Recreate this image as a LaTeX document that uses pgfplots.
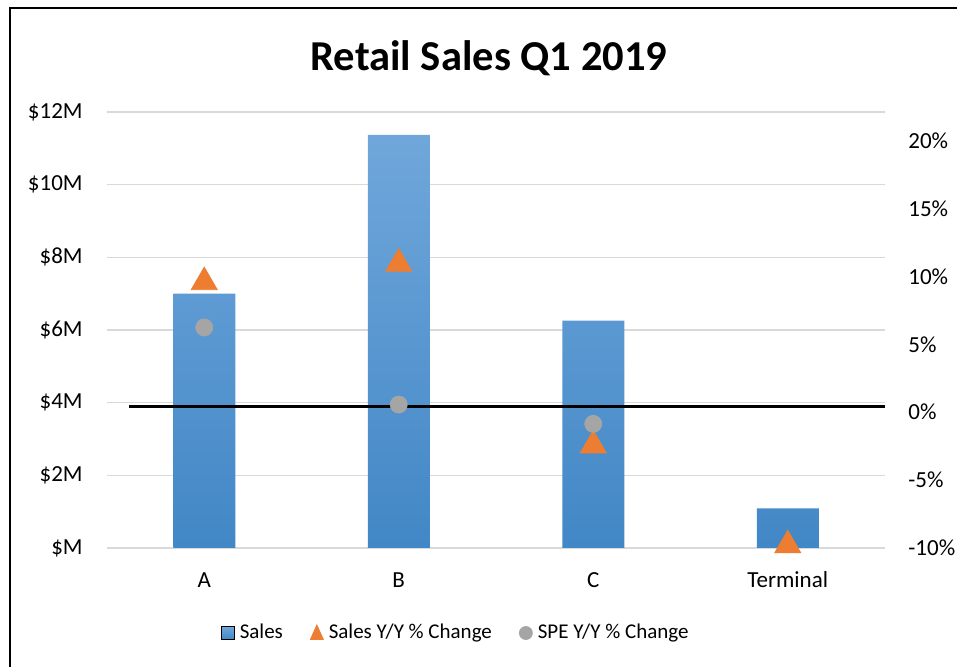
\documentclass[border=0pt]{standalone}
\usepackage{fontspec}
\setmainfont{Carlito}
\usepackage{pgfplots}
\pgfplotsset{compat=1.18}

\definecolor{barTop}{HTML}{70A7DB}
\definecolor{barBot}{HTML}{4287C6}
\definecolor{gridc}{HTML}{D9D9D9}
\definecolor{salesOr}{HTML}{ED7D31}
\definecolor{speGr}{HTML}{A5A5A5}

\begin{document}
\begin{tikzpicture}
\useasboundingbox (0,0) rectangle (478.5pt,333.5pt);
% chart frame (only left and top are visible)
\draw[line width=1pt] (5pt,-5pt) -- (5pt,329.5pt) -- (490pt,329.5pt);
\node[font=\fontsize{21.3}{25}\selectfont\bfseries] at (244.5pt,304.5pt) {Retail Sales Q1 2019};

\pgfplotsset{
    chartbase/.style={
        at={(53.5pt,59.5pt)}, anchor=south west,
        scale only axis, width=389pt, height=218pt,
        xmin=-0.5, xmax=3.5,
        axis line style={draw=none},
        major tick length=0pt,
        tick label style={font=\fontsize{11.5}{13}\selectfont, inner sep=0pt},
        /pgf/number format/assume math mode=true,
    },
}

% left axis: sales in $M
\begin{axis}[
    chartbase,
    ymin=0, ymax=12,
    ytick={0,2,...,12},
    yticklabels={\$M,\$2M,\$4M,\$6M,\$8M,\$10M,\$12M},
    yticklabel style={anchor=east, xshift=-12pt},
    xtick={0,1,2,3},
    xticklabels={A,B,C,Terminal},
    xticklabel style={anchor=base, yshift=-19.75pt},
    ymajorgrids,
    grid style={gridc, line width=0.6pt},
]
\addplot[ybar, bar width=31pt, bar shift=0pt, draw=none,
    top color=barTop, bottom color=barBot] coordinates {
    (0, 7.00)
    (1, 11.37)
    (2, 6.26)
    (3, 1.09)
};
\end{axis}

% right axis: Y/Y % change
\begin{axis}[
    chartbase,
    ymin=-10, ymax=22.1,
    ytick={-10,-5,...,20},
    yticklabels={-10\%,-5\%,0\%,5\%,10\%,15\%,20\%},
    yticklabel style={anchor=west, xshift=11.5pt},
    axis y line*=right,
    xtick=\empty,
    legend columns=3,
    legend style={at={(0.447,-0.195)}, anchor=center, draw=none, fill=none,
        font=\fontsize{10.5}{12}\selectfont, inner sep=0pt,
        nodes={inner xsep=0pt, inner ysep=0pt},
        /tikz/every even column/.append style={column sep=13.5pt}},
]
\addplot[black, line width=1.2pt, forget plot] coordinates {
    (-0.387, 0.43)
    (3.5, 0.43)
};
\addplot[only marks, mark=triangle*, mark size=7.5pt,
    mark options={fill=salesOr, draw=salesOr}, forget plot] coordinates {
    (0, 9.57)
    (1, 10.93)
    (2, -2.45)
    (3, -9.8)
};
\addplot[only marks, mark=*, mark size=4.25pt,
    mark options={fill=speGr, draw=speGr}, forget plot] coordinates {
    (0, 6.24)
    (1, 0.56)
    (2, -0.86)
};
\addlegendimage{legend image code/.code={\fill[top color=barTop, bottom color=barBot] (0pt,-3.25pt) rectangle (6.5pt,3.25pt);}}
\addlegendentry{\hspace{2.5pt}Sales}
\addlegendimage{legend image code/.code={\fill[salesOr] (0pt,-3.25pt) -- (6.5pt,-3.25pt) -- (3.25pt,4pt) -- cycle;}}
\addlegendentry{\hspace{2.5pt}Sales Y/Y \% Change}
\addlegendimage{legend image code/.code={\fill[speGr] (3.25pt,0pt) circle (3.25pt);}}
\addlegendentry{\hspace{2.5pt}SPE Y/Y \% Change}
\end{axis}
\end{tikzpicture}
\end{document}
